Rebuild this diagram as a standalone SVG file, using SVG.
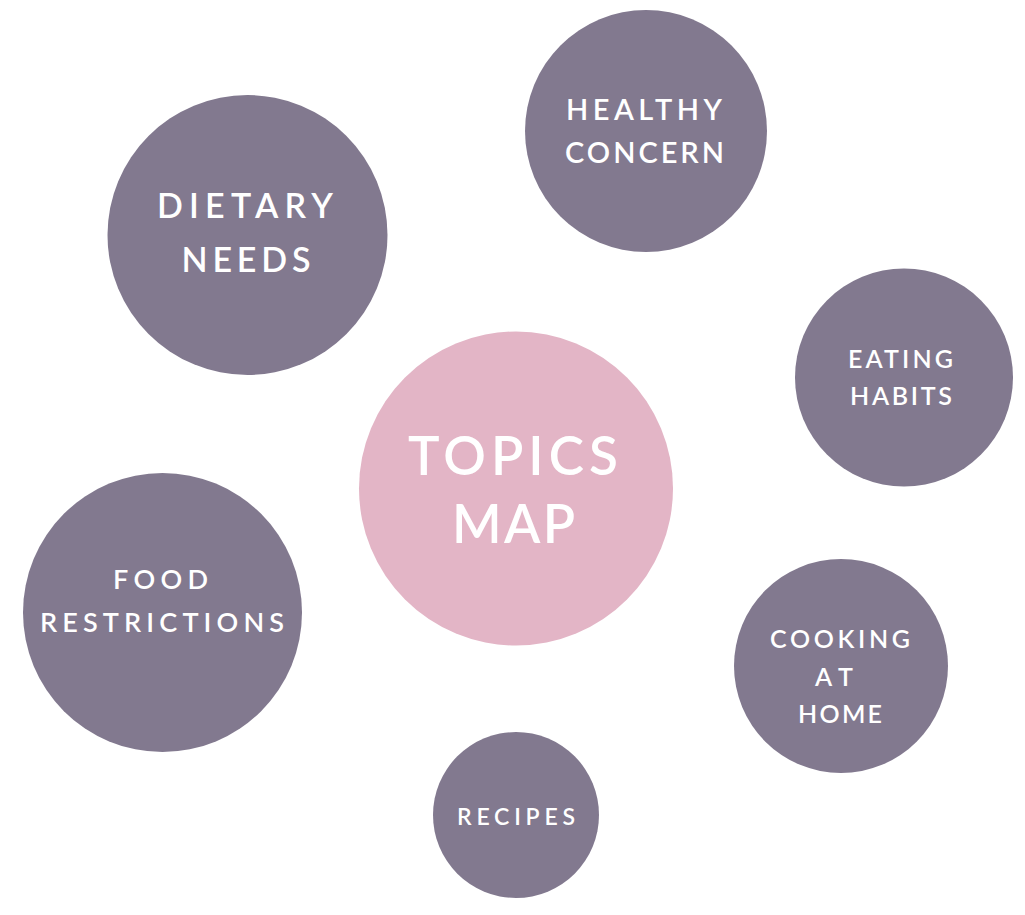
<svg xmlns="http://www.w3.org/2000/svg" width="1025" height="915" viewBox="0 0 1025 915">
<style>
.sub{fill:#82798F}
.main{fill:#E3B5C6}
text{fill:#FFFFFF;font-family:Lato,"Open Sans","Liberation Sans",sans-serif;font-weight:600;text-anchor:middle}
</style>
<rect width="1025" height="915" fill="#FFFFFF"/>
<g id="connectors"></g>
<g id="dietary-needs">
<circle class="sub" cx="247.5" cy="235" r="140"/>
<text x="245" y="218" font-size="34" textLength="176" lengthAdjust="spacing">DIETARY</text>
<text x="246" y="272" font-size="34" textLength="129" lengthAdjust="spacing">NEEDS</text>
</g>
<g id="healthy-concern">
<circle class="sub" cx="646" cy="131" r="121"/>
<text x="644" y="120" font-size="29" textLength="156" lengthAdjust="spacing">HEALTHY</text>
<text x="644.5" y="163" font-size="29" textLength="159" lengthAdjust="spacing">CONCERN</text>
</g>
<g id="eating-habits">
<circle class="sub" cx="904" cy="377.5" r="109"/>
<text x="900.5" y="368" font-size="25" textLength="105" lengthAdjust="spacing">EATING</text>
<text x="901" y="405" font-size="25" textLength="102" lengthAdjust="spacing">HABITS</text>
</g>
<g id="topics-map">
<circle class="main" cx="516" cy="488.5" r="157"/>
<text x="513" y="475" font-size="53" textLength="210" lengthAdjust="spacing">TOPICS</text>
<text x="513.5" y="543" font-size="53" textLength="123" lengthAdjust="spacing">MAP</text>
</g>
<g id="food-restrictions">
<circle class="sub" cx="162.5" cy="612.5" r="139.5"/>
<text x="160.5" y="589" font-size="27" textLength="95" lengthAdjust="spacing">FOOD</text>
<text x="162" y="632" font-size="27" textLength="244" lengthAdjust="spacing">RESTRICTIONS</text>
</g>
<g id="cooking-at-home">
<circle class="sub" cx="841" cy="666" r="107"/>
<text x="840" y="648" font-size="25" textLength="140" lengthAdjust="spacing">COOKING</text>
<text x="834" y="686" font-size="25" textLength="38" lengthAdjust="spacing">AT</text>
<text x="840" y="723" font-size="25" textLength="84" lengthAdjust="spacing">HOME</text>
</g>
<g id="recipes">
<circle class="sub" cx="516" cy="815" r="83"/>
<text x="516" y="825" font-size="23" textLength="118" lengthAdjust="spacing">RECIPES</text>
</g>
</svg>
